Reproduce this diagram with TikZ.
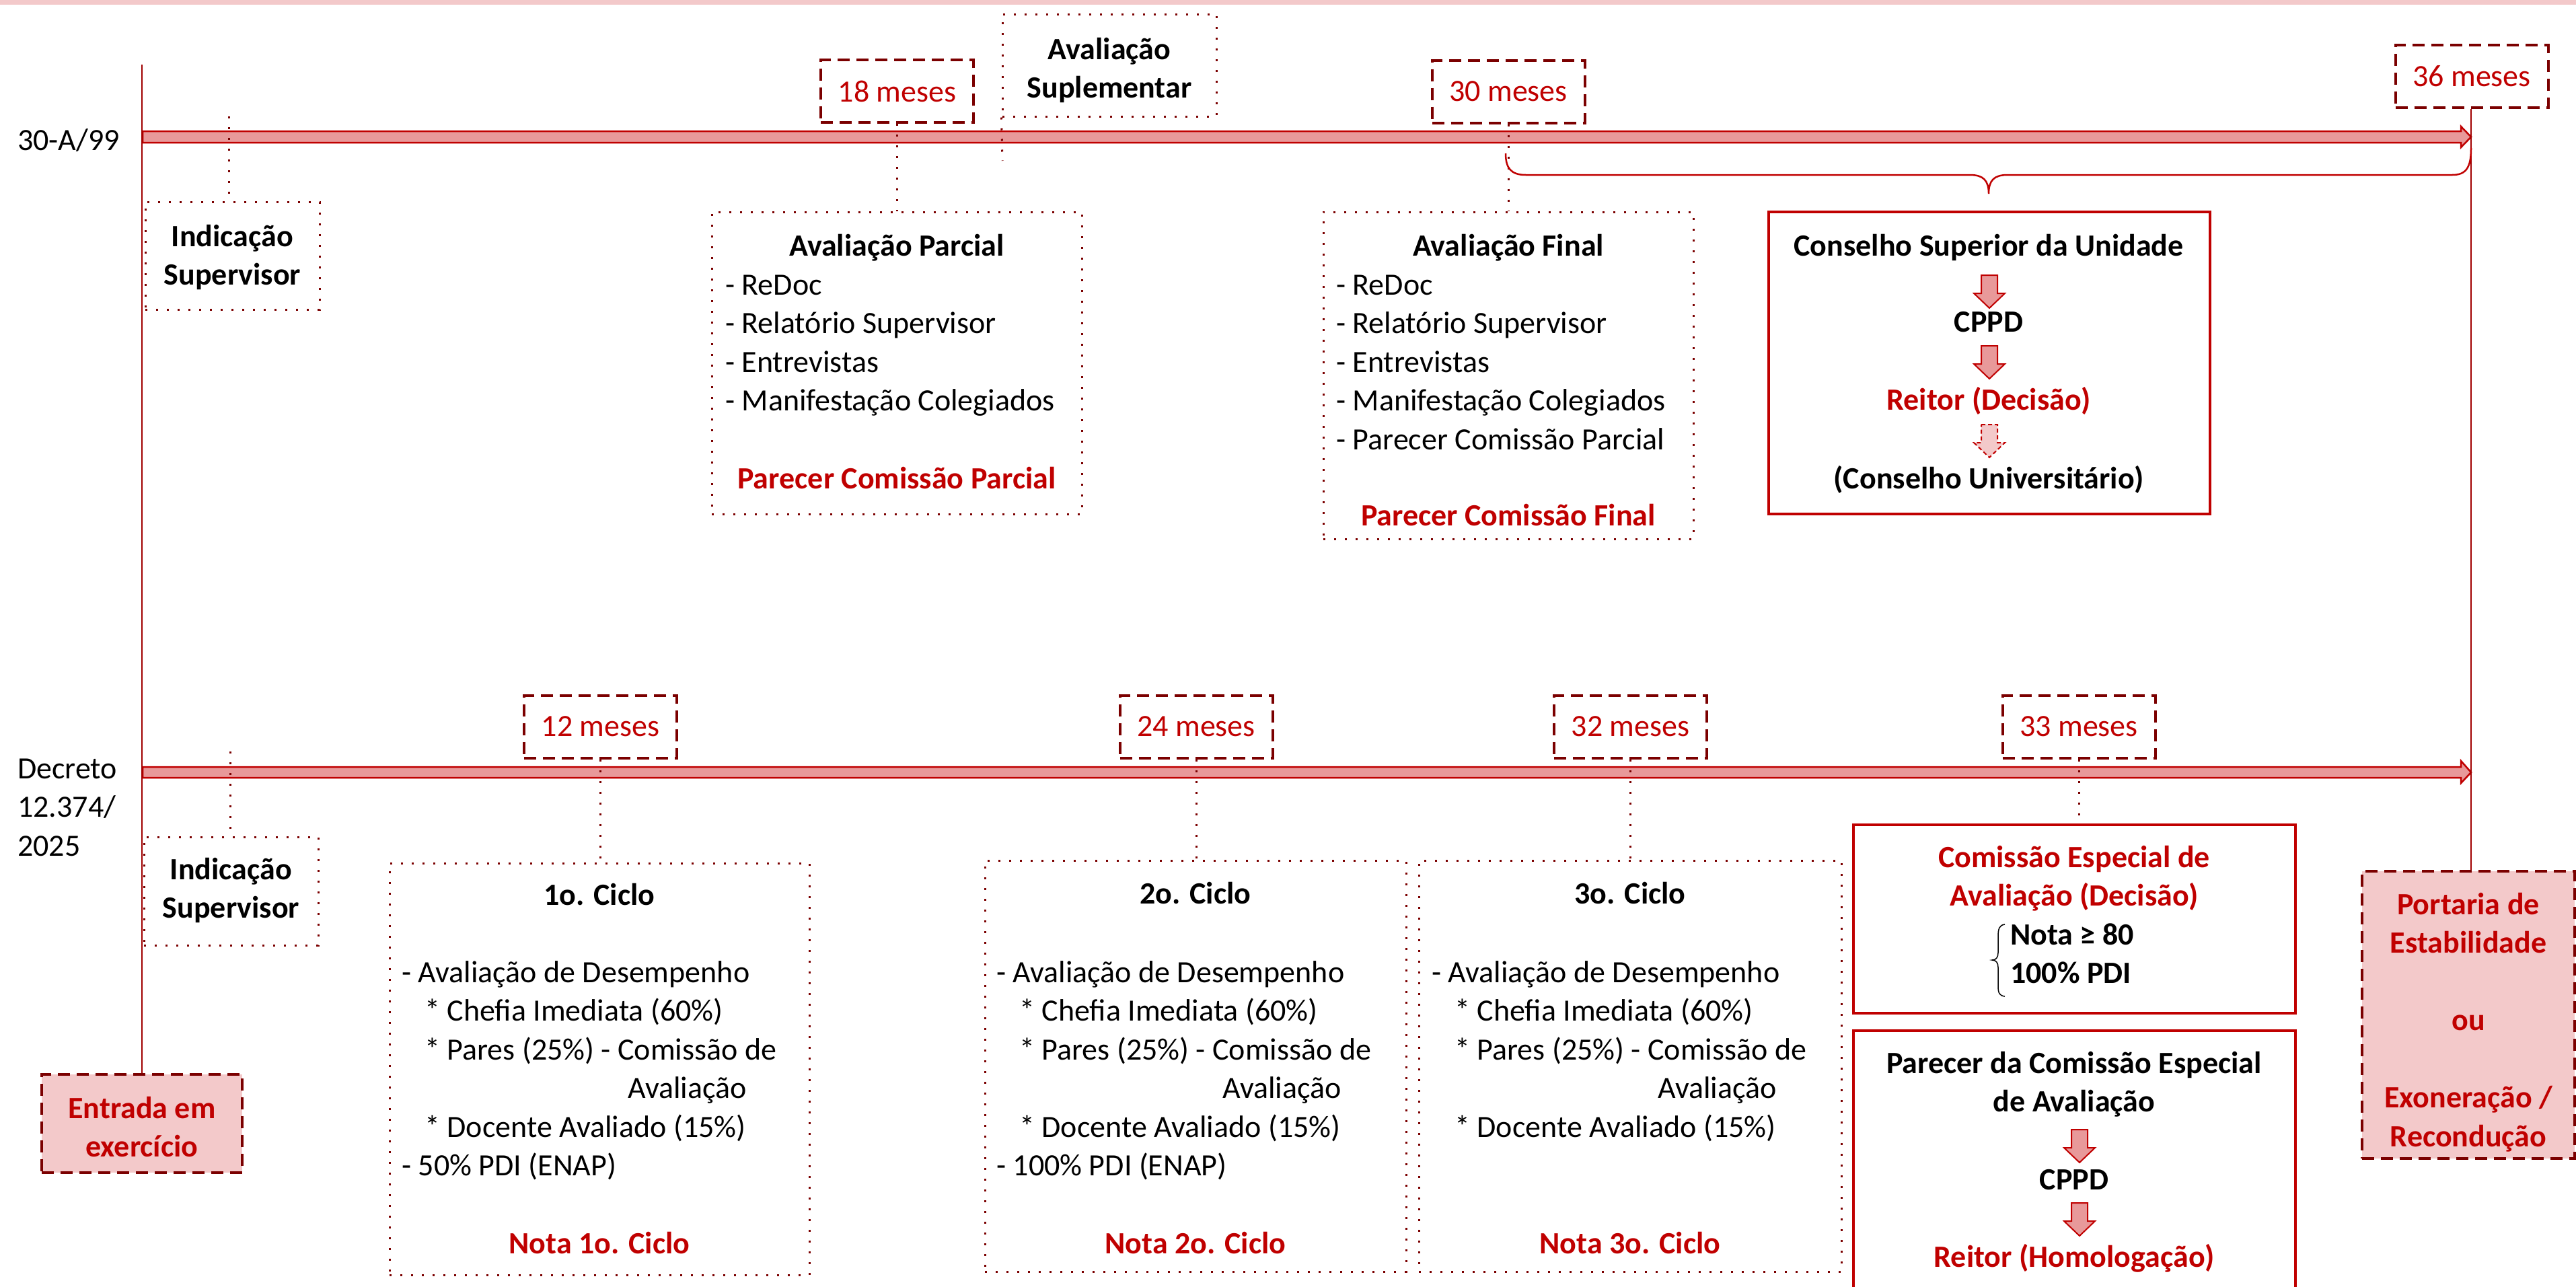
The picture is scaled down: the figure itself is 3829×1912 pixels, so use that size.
\documentclass[tikz,border=0pt]{standalone}
\usepackage{fontspec}
\setmainfont{Carlito}
\definecolor{dred}{HTML}{7B0000}
\definecolor{mred}{HTML}{C00000}
\definecolor{vred}{HTML}{A00000}
\definecolor{barfill}{HTML}{E8999A}
\definecolor{lpink}{HTML}{F3C9CA}
\newcommand{\ltab}[1]{\begin{tabular}[t]{@{}l@{}}#1\end{tabular}}
\newcommand{\ctab}[1]{\begin{tabular}[t]{@{}c@{}}#1\end{tabular}}
\begin{document}
\begin{tikzpicture}[x=1pt,y=-1pt,
  every node/.style={font=\fontsize{46pt}{57.5pt}\selectfont},
  dotbox/.style={draw=dred, line width=3pt, dash pattern=on 3pt off 13pt, inner sep=0pt},
  dashbox/.style={draw=dred, line width=4pt, dash pattern=on 18pt off 10pt, inner sep=0pt},
  mesbox/.style={dashbox, minimum width=227pt, minimum height=93pt, text=mred},
  solidbox/.style={draw=mred, line width=3.5pt, inner sep=0pt},
  pinkbox/.style={dashbox, fill=lpink},
  dotline/.style={draw=dred, line width=3pt, dash pattern=on 3pt off 13pt},
  vline/.style={draw=vred, line width=2.5pt},
  bar/.style={draw=mred, fill=barfill, line width=2.5pt, line join=miter},
  txt/.style={inner sep=0pt, anchor=base},
  txtl/.style={inner sep=0pt, anchor=base west},
  bold/.style={font=\fontsize{46pt}{57.5pt}\selectfont\bfseries},
  redb/.style={bold, text=mred},
  darrow/.pic={\path[pic actions] (-12,0) -- (12,0) -- (12,27) -- (23,27) -- (0,49) -- (-23,27) -- (-12,27) -- cycle;},
  blk/.style={draw=mred, fill=barfill, line width=2pt},
  blkdash/.style={draw=mred, fill=lpink, line width=2pt, dash pattern=on 6pt off 4pt}
]
\clip (0,0) rectangle (3829,1912);
\fill[white] (0,0) rectangle (3829,1912);
\fill[lpink] (0,0) rectangle (3829,7);

% ---------- boxes: top line ----------
\node[dotbox, minimum width=259pt, minimum height=160pt] (indA) at (345.5,380) {};
\node[dotbox, minimum width=318pt, minimum height=152pt] (supl) at (1649,97) {};
\node[mesbox] (m18) at (1333.5,135.5) {18 meses};
\node[mesbox] (m30) at (2242,136) {30 meses};
\node[mesbox] (m36) at (3674,113.5) {36 meses};
\node[dotbox, minimum width=550pt, minimum height=449pt] (parc) at (1333,539.5) {};
\node[dotbox, minimum width=550pt, minimum height=486pt] (fin) at (2242,558) {};
\node[solidbox, minimum width=656pt, minimum height=449pt] (cons) at (2957,539.5) {};

% ---------- boxes: bottom line ----------
\node[dotbox, minimum width=259pt, minimum height=161pt] (indB) at (343.5,1324.5) {};
\node[mesbox] (m12) at (892.5,1080) {12 meses};
\node[mesbox] (m24) at (1778,1080) {24 meses};
\node[mesbox] (m32) at (2423.5,1080) {32 meses};
\node[mesbox] (m33) at (3090,1080) {33 meses};
\node[dotbox, minimum width=624pt, minimum height=612pt] (c1) at (891,1589) {};
\node[dotbox, minimum width=626pt, minimum height=611pt] (c2) at (1777,1584.5) {};
\node[dotbox, minimum width=628pt, minimum height=611pt] (c3) at (2423,1584.5) {};
\node[solidbox, minimum width=657pt, minimum height=280pt] (cesp) at (3083.5,1366) {};
\node[solidbox, minimum width=657pt, minimum height=418pt] (pare) at (3083.5,1741) {};
\node[pinkbox, minimum width=316pt, minimum height=427pt] (port) at (3669,1508.5) {};
\node[pinkbox, minimum width=298pt, minimum height=146pt] (entr) at (211,1670) {};

% ---------- timeline bars ----------
\draw[bar] (212,195) -- (3658,195) -- (3658,188) -- (3673,203.5) -- (3658,219) -- (3658,212) -- (212,212) -- cycle;
\draw[bar] (212,1140) -- (3658,1140) -- (3658,1131) -- (3673,1148) -- (3658,1164) -- (3658,1156) -- (212,1156) -- cycle;

% ---------- connectors ----------
\coordinate (ltop) at (211,96);
\draw[vline] (ltop) -- (entr.north);
\draw[vline] (m36.south -| 3673,0) -- (port.north -| 3673,0);
\coordinate (indAtop) at (340,173);
\draw[dotline] (indAtop) -- (indAtop |- indA.north);
\coordinate (indBtop) at (342,1117);
\draw[dotline] (indBtop) -- (indBtop |- indB.north);
\coordinate (suplend) at (1490,239);
\draw[dotline] (supl.south west) -- (suplend);
\draw[dotline] (m18.south) -- (m18.south |- parc.north);
\draw[dotline] (m30.south) -- (m30.south |- fin.north);
\draw[dotline] (m12.south) -- (m12.south |- c1.north);
\draw[dotline] (m24.south) -- (m24.south |- c2.north);
\draw[dotline] (m32.south) -- (m32.south |- c3.north);
\draw[dotline] (m33.south) -- (m33.south |- cesp.north);

% brace under top line
\draw[mred, line width=2.5pt] (2238,228) .. controls (2238,250) and (2246,260) .. (2268,260) -- (2928,260)
  .. controls (2948,260) and (2956,268) .. (2956,288) .. controls (2956,268) and (2964,260) .. (2984,260)
  -- (3645,260) .. controls (3665,260) and (3673,250) .. (3673,220);

% ---------- texts ----------
\node[txtl] (lab1) at (26,223) {30-A/99};
\node[txtl] (lab2) at (26,1157) {\ltab{Decreto\\12.374/\\2025}};

\node[txt, bold] (tindA) at (345.5,366) {\ctab{Indicação\\Supervisor}};
\node[txt, bold] (tindB) at (343.5,1307) {\ctab{Indicação\\Supervisor}};
\node[txt, bold] (tsupl) at (1649,88) {\ctab{Avaliação\\Suplementar}};

\node[txt, bold] (tparc) at (1333,380) {Avaliação Parcial};
\node[txtl] (lparc) at (1078,438) {\ltab{- ReDoc\\- Relatório Supervisor\\- Entrevistas\\- Manifestação Colegiados}};
\node[txt, redb] (rparc) at (1333,726) {Parecer Comissão Parcial};

\node[txt, bold] (tfin) at (2242,380) {Avaliação Final};
\node[txtl] (lfin) at (1986,438) {\ltab{- ReDoc\\- Relatório Supervisor\\- Entrevistas\\- Manifestação Colegiados\\- Parecer Comissão Parcial}};
\node[txt, redb] (rfin) at (2242,781) {Parecer Comissão Final};

\node[txt, bold] (cons1) at (2956,380) {Conselho Superior da Unidade};
\node[txt, bold] (cons2) at (2956,493) {CPPD};
\node[txt, redb] (cons3) at (2956,609) {Reitor (Decisão)};
\node[txt, bold] (cons4) at (2956,726) {(Conselho Universitário)};
\pic[blk] at (2957,409) {darrow};
\pic[blk] at (2957,514) {darrow};
\pic[blkdash] at (2957,631) {darrow};

\node[txt, bold] (tc1) at (891,1345) {1o. Ciclo};
\node[txtl] (lc1) at (597,1460) {\ltab{- Avaliação de Desempenho\\ \hspace*{34pt}* Chefia Imediata (60\%)\\ \hspace*{34pt}* Pares (25\%) - Comissão de\\ \hspace*{336pt}Avaliação\\ \hspace*{34pt}* Docente Avaliado (15\%)\\- 50\% PDI (ENAP)}};
\node[txt, redb] (rc1) at (891,1863) {Nota 1o. Ciclo};

\node[txt, bold] (tc2) at (1777,1343) {2o. Ciclo};
\node[txtl] (lc2) at (1481,1460) {\ltab{- Avaliação de Desempenho\\ \hspace*{34pt}* Chefia Imediata (60\%)\\ \hspace*{34pt}* Pares (25\%) - Comissão de\\ \hspace*{336pt}Avaliação\\ \hspace*{34pt}* Docente Avaliado (15\%)\\- 100\% PDI (ENAP)}};
\node[txt, redb] (rc2) at (1777,1863) {Nota 2o. Ciclo};

\node[txt, bold] (tc3) at (2423,1343) {3o. Ciclo};
\node[txtl] (lc3) at (2128,1460) {\ltab{- Avaliação de Desempenho\\ \hspace*{34pt}* Chefia Imediata (60\%)\\ \hspace*{34pt}* Pares (25\%) - Comissão de\\ \hspace*{336pt}Avaliação\\ \hspace*{34pt}* Docente Avaliado (15\%)}};
\node[txt, redb] (rc3) at (2423,1863) {Nota 3o. Ciclo};

\node[txt, redb] (tcesp) at (3083,1289) {\ctab{Comissão Especial de\\Avaliação (Decisão)}};
\node[txtl, bold] (lcesp) at (2988,1404) {\ltab{Nota ≥ 80\\100\% PDI}};
\draw[black, line width=1.5pt] (2980,1374) .. controls (2972,1375) and (2970,1380) .. (2970,1392) -- (2970,1416)
  .. controls (2970,1423) and (2967,1427) .. (2961,1427) .. controls (2967,1427) and (2970,1431) .. (2970,1438)
  -- (2970,1466) .. controls (2970,1476) and (2972,1480) .. (2980,1481);

\node[txt, bold] (tpare) at (3083,1595) {\ctab{Parecer da Comissão Especial\\de Avaliação}};
\pic[blk] at (3091,1679) {darrow};
\node[txt, bold] (pare2) at (3083,1768) {CPPD};
\pic[blk] at (3091,1788) {darrow};
\node[txt, redb] (pare3) at (3083,1883) {Reitor (Homologação)};

\node[txt, redb] (tport) at (3669,1359) {\ctab{Portaria de\\Estabilidade\\ \\ou\\ \\Exoneração /\\Recondução}};
\node[txt, redb] (tentr) at (211,1662) {\ctab{Entrada em\\exercício}};
\end{tikzpicture}
\end{document}
